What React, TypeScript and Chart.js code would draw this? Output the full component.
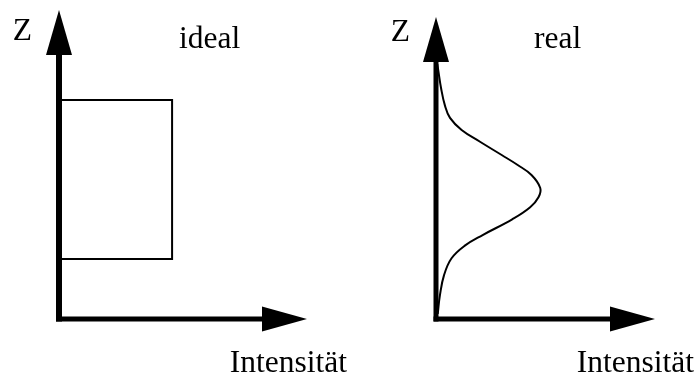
import React, { useEffect, useRef } from "react";
import { Chart, registerables } from "chart.js";

Chart.register(...registerables);

// Ideal profile: rectangle (intensity vs Z)
const idealIntensity = [0, 4.56, 4.56, 0];
const idealZ = [7.09, 7.09, 1.94, 1.94];

// Real profile: bell-shaped curve (intensity vs Z)
const realIntensity = [0.06, 0.1, 0.23, 0.4, 0.64, 1.17, 2.01, 3.0, 3.73, 4.36, 4.76, 4.68, 4.3, 3.48, 2.13, 1.3, 0.71, 0.37, 0.18, 0.08];
const realZ = [8.44, 8.25, 7.65, 7.09, 6.66, 6.26, 5.87, 5.43, 5.1, 4.77, 4.34, 4.03, 3.7, 3.3, 2.78, 2.42, 2.01, 1.46, 0.79, 0.17];

const axisMax = 10;
const zLabel = "Z";
const xLabel = "Intensität";
const panelTitles = ["ideal", "real"];

const FONT = "31.5px 'Liberation Serif', 'Times New Roman', serif";

type PanelCfg = {
  title: string;
  titleX: number;
  titleY: number;
  zOffset: number;
  zY: number;
  yShaft: number;
  xShaft: number;
};

const arrowPlugin = {
  id: "arrowAxes",
  afterDatasetsDraw(chart: any, _args: any, opts: PanelCfg) {
    const ctx = chart.ctx;
    const xs = chart.scales.x;
    const ys = chart.scales.y;
    const ox = xs.getPixelForValue(0);
    const oy = ys.getPixelForValue(0);
    const tipX = xs.getPixelForValue(axisMax);
    const tipY = ys.getPixelForValue(axisMax);
    const headLen = 45;
    const headHalf = 12.5;
    ctx.save();
    ctx.fillStyle = "#000";
    ctx.strokeStyle = "#000";
    ctx.lineWidth = opts.yShaft;
    ctx.beginPath();
    ctx.moveTo(ox, oy + opts.xShaft / 2);
    ctx.lineTo(ox, tipY + headLen - 1);
    ctx.stroke();
    ctx.lineWidth = opts.xShaft;
    ctx.beginPath();
    ctx.moveTo(ox - opts.yShaft / 2, oy);
    ctx.lineTo(tipX - headLen + 1, oy);
    ctx.stroke();
    ctx.beginPath();
    ctx.moveTo(ox, tipY);
    ctx.lineTo(ox - headHalf - 0.5, tipY + headLen);
    ctx.lineTo(ox + headHalf + 0.5, tipY + headLen);
    ctx.closePath();
    ctx.fill();
    ctx.beginPath();
    ctx.moveTo(tipX, oy);
    ctx.lineTo(tipX - headLen, oy - headHalf);
    ctx.lineTo(tipX - headLen, oy + headHalf);
    ctx.closePath();
    ctx.fill();
    ctx.restore();
  },
  afterDraw(chart: any, _args: any, opts: PanelCfg) {
    const ctx = chart.ctx;
    const xs = chart.scales.x;
    const ox = xs.getPixelForValue(0);
    ctx.save();
    ctx.fillStyle = "#000";
    ctx.font = FONT;
    ctx.textBaseline = "alphabetic";
    ctx.textAlign = "right";
    ctx.fillText(zLabel, ox - opts.zOffset, opts.zY);
    ctx.textAlign = "left";
    ctx.fillText(opts.title, opts.titleX, opts.titleY);
    ctx.textAlign = "right";
    ctx.fillText(xLabel, chart.width, 372);
    ctx.restore();
  },
};

function Panel({ ints, zs, padding, cfg, smooth }: { ints: number[]; zs: number[]; padding: any; cfg: PanelCfg; smooth: boolean }) {
  const ref = useRef<HTMLCanvasElement | null>(null);
  useEffect(() => {
    if (!ref.current) return;
    const chart = new Chart(ref.current, {
      type: "scatter",
      data: {
        datasets: [
          {
            data: ints.map((v, i) => ({ x: v, y: zs[i] })),
            showLine: true,
            borderColor: "#000",
            borderWidth: 2,
            pointRadius: 0,
            tension: smooth ? 0.4 : 0,
            fill: false,
            clip: false as any,
          } as any,
        ],
      },
      options: {
        animation: false,
        responsive: false,
        events: [],
        layout: { padding },
        plugins: {
          legend: { display: false },
          tooltip: { enabled: false },
          arrowAxes: cfg as any,
        } as any,
        scales: {
          x: { type: "linear", min: 0, max: axisMax, display: false },
          y: { type: "linear", min: 0, max: axisMax, display: false },
        },
      } as any,
      plugins: [arrowPlugin],
    });
    return () => chart.destroy();
  }, []);
  return <canvas ref={ref} width={347} height={374} style={{ display: "block" }} />;
}

export default function App() {
  return (
    <div style={{ position: "fixed", left: 0, top: 0, width: 694, height: 374, display: "flex", background: "#fff" }}>
      <Panel
        ints={idealIntensity}
        zs={idealZ}
        smooth={false}
        padding={{ left: 59, right: 40, top: 10, bottom: 55 }}
        cfg={{ title: panelTitles[0], titleX: 179, titleY: 48, zOffset: 27, zY: 40, yShaft: 6, xShaft: 5 }}
      />
      <Panel
        ints={realIntensity}
        zs={realZ}
        smooth={true}
        padding={{ left: 89, right: 39, top: 17, bottom: 55 }}
        cfg={{ title: panelTitles[1], titleX: 187, titleY: 48, zOffset: 26, zY: 41, yShaft: 5, xShaft: 5 }}
      />
    </div>
  );
}
